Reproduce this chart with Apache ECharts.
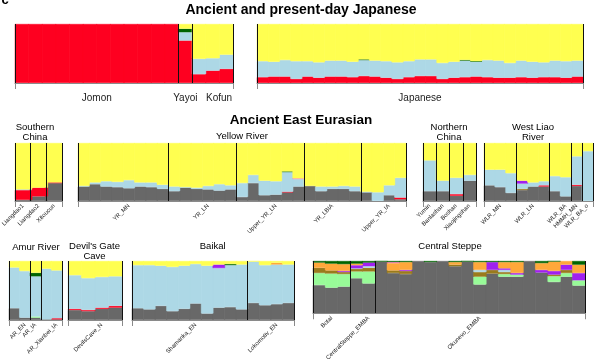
<!DOCTYPE html>
<html><head><meta charset="utf-8">
<script src="https://cdn.jsdelivr.net/npm/echarts@6/dist/echarts.min.js"></script>
<style>html,body{margin:0;padding:0;background:#fff}#c{width:600px;height:363px}</style>
</head><body><div id="c"></div>
<script>
// ancestry components, stacked bottom -> top
const components = ['g','r','lg','o','b','p','or','pk','dg','y'];
const componentColors = ['#686868','#FE0020','#98FB98','#9A7B1C','#ADD8E6','#A020F0','#FFA83A','#FF6EB4','#006400','#FFFF50'];

// ---- Ancient and present-day Japanese ----
const ancientJapanGroups = [['Jomon',12],['Yayoi',1],['Kofun',3]];
const ancientJapanRows = [
  {r:100},{r:100},{r:100},{r:100},{r:100},{r:100},{r:100},{r:100},{r:100},{r:100},{r:100},{r:100},
  {r:72,b:14,dg:6,y:8},
  {r:15,b:26,y:59},{r:21,b:21,y:58},{r:24,b:24,y:52}
];
const japaneseGroups = [['Japanese',29]];
const japaneseRows = [
  {r:10,b:27,y:63},{r:11,b:25,y:64},{r:11,b:28,y:61},{r:7,b:30,y:63},{r:11,b:26,y:63},
  {r:9,b:26,y:65},{r:11,b:27,y:62},{r:11,b:27,y:62},{r:10,b:26,y:64},{r:12,b:27,dg:1,y:60},
  {r:11,b:27,y:62},{r:9,b:28,y:63},{r:7,b:28,y:65},{r:10,b:27,y:63},{r:12,b:28,y:60},
  {r:12,b:28,y:60},{r:7,b:27,y:66},{r:9,b:27,y:64},{r:10,b:28,dg:1,y:61},{r:11,b:25,dg:1,y:63},
  {r:10,b:29,y:61},{r:9,b:29,y:62},{r:9,b:25,y:66},{r:10,b:28,y:62},{r:9,b:27,y:64},
  {r:10,b:25,y:65},{r:10,b:28,y:62},{r:9,b:28,y:63},{r:11,b:27,y:62}
];

// ---- Ancient East Eurasian ----
const southChinaGroups = [['Liangdao1',1],['Liangdao2',1],['Xitoucun',1]];
const southChinaRows = [{g:2,r:17,b:1,y:80},{g:8,r:15,y:77},{g:31,r:1,y:68}];

const yellowRiverGroups = [['YR_MN',8],['YR_LN',6],['Upper_YR_LN',6],['YR_LBIA',5],['Upper_YR_IA',4]];
const yellowRiverRows = [
  {g:25,b:1,y:74},{g:29,b:3,y:68},{g:25,b:9,y:66},{g:24,b:9,y:67},{g:22,b:14,y:64},{g:25,b:7,y:68},{g:24,b:8,y:68},{g:21,b:7,y:72},
  {g:17,b:8,y:75},{g:23,b:1,y:76},{g:21,b:2,y:77},{g:20,b:6,y:74},{g:18,b:11,y:71},{g:20,b:7,y:73},
  {g:7,b:24,y:69},{g:31,b:14,y:55},{g:10,b:25,y:65},{g:11,b:23,y:66},{g:15,r:1,b:34,dg:1,y:49},{g:25,b:13,pk:1,y:61},
  {g:26,y:74},{g:17,b:8,y:75},{g:21,b:4,y:75},{g:21,b:5,y:74},{g:17,b:8,y:75},
  {g:15,b:1,y:84},{b:15,y:85},{g:10,b:17,y:73},{g:3,r:3,b:34,y:60}
];

const northChinaGroups = [['Yumin',1],['Banlashan',1],['Boshan',1],['Xiaojingshan',1]];
const northChinaRows = [{g:17,b:53,y:30},{g:17,b:18,y:65},{g:9,r:3,b:28,y:60},{g:35,b:10,y:55}];

const westLiaoGroups = [['WLR_MN',3],['WLR_LN',3],['WLR_BA',2],['HMMH_MN',1],['WLR_BA_o',1]];
const westLiaoRows = [
  {g:27,b:27,y:46},{g:24,b:30,y:46},{g:14,b:34,y:52},
  {g:19,o:2,b:9,p:5,y:65},{g:25,b:7,y:68},{g:25,r:2,b:7,y:66},
  {g:17,b:26,y:57},{g:8,b:33,y:59},
  {g:26,r:2,b:49,y:23},
  {b:86,y:14}
];

const amurGroups = [['AR_EN',2],['AR_IA',1],['AR_Xianbei_IA',2]];
const amurRows = [
  {g:20,b:69,y:11},{g:4,b:79,y:17},
  {g:4,lg:2,b:68,dg:6,y:20},
  {g:1,b:86,y:13},{g:1,r:2,b:81,y:16}
];

const devilsGateGroups = [['DevilsCave_N',4]];
const devilsGateRows = [{g:17,r:2,b:57,y:24},{g:15,r:2,b:54,y:29},{g:19,r:2,b:52,y:27},{g:21,r:3,b:50,y:26}];

const baikalGroups = [['Shamanka_EN',10],['Lokomotiv_EN',4]];
const baikalRows = [
  {g:20,b:73,y:7},{g:18,b:75,y:7},{g:24,b:68,y:8},{g:15,b:75,y:10},{g:19,b:73,y:8},
  {g:28,b:67,y:5},{g:11,b:81,y:8},{g:21,b:67,p:6,y:6},{g:22,b:71,dg:2,y:5},{g:18,b:76,y:6},
  {g:29,b:70,y:1},{g:25,b:68,y:7},{g:27,b:67,or:3,y:3},{g:29,b:65,y:6}
];

const steppeGroups = [['Botai',3],['CentralSteppe_EMBA',2],['Okunevo_EMBA',17]];
const steppeRows = [
  {g:54,lg:23,o:10,or:10,dg:3},{g:49,lg:27,o:6,or:13,dg:5},{g:51,lg:24,o:4,p:2,or:13,dg:6},
  {g:67,lg:13,o:5,b:1,or:3,p:6,dg:5},{g:57,lg:23,o:7,b:3,p:7,dg:3},
  {g:99,dg:1},{g:77,o:5,pk:2,or:14,dg:2},{g:75,o:6,p:2,or:15,dg:2},{g:100},{g:98,dg:2},
  {g:100},{g:90,o:3,or:5,dg:2},{g:99,dg:1},{g:55,lg:15,o:9,b:4,or:15,dg:2},{g:76,o:7,p:15,dg:2},
  {g:70,lg:5,o:4,b:4,p:3,or:12,dg:2},{g:70,lg:4,p:3,or:21,dg:2},{g:100},{g:78,p:5,or:13,dg:4},
  {g:60,lg:11,o:3,p:7,or:18,dg:1},{g:70,lg:7,o:6,p:10,or:7},{g:53,lg:10,p:14,or:16,dg:7}
];

// ---- layout (not data) ----
const FONT = 'Liberation Sans, Arial, Helvetica, sans-serif';
const panels = [
  {groups:ancientJapanGroups, rows:ancientJapanRows, left:15, top:24, width:218, height:59, rot:0, nudge:{Kofun:13}},
  {groups:japaneseGroups, rows:japaneseRows, left:257, top:24, width:326, height:59, rot:0},
  {groups:southChinaGroups, rows:southChinaRows, left:8, top:143, width:54, height:58, rot:45},
  {groups:yellowRiverGroups, rows:yellowRiverRows, left:78, top:143, width:328, height:58, rot:45},
  {groups:northChinaGroups, rows:northChinaRows, left:423, top:143, width:53, height:58, rot:45},
  {groups:westLiaoGroups, rows:westLiaoRows, left:484, top:143, width:109, height:58, rot:45},
  {groups:amurGroups, rows:amurRows, left:9, top:261, width:53, height:59, rot:45},
  {groups:devilsGateGroups, rows:devilsGateRows, left:68, top:261, width:54, height:59, rot:45},
  {groups:baikalGroups, rows:baikalRows, left:132, top:261, width:162, height:59, rot:45},
  {groups:steppeGroups, rows:steppeRows, left:313, top:261, width:272, height:59, rot:45}
];

const grids = [], xAxes = [], yAxes = [], series = [];
panels.forEach((P, pi) => {
  grids.push({left:P.left, top:P.top, width:P.width, height:P.height, containLabel:false});
  const band = P.width / P.rows.length;
  const starts = new Set(); const labelAt = {}; let s = 0;
  P.groups.forEach(([name, n]) => {
    starts.add(s);
    labelAt[s + Math.floor(n / 2)] = {name, even: n % 2 === 0};
    s += n;
  });
  const fs = P.rot ? 6 : 10;
  const rich = {
    n: {fontSize: fs, fontFamily: FONT, color: '#222'},
    e: {fontSize: fs, fontFamily: FONT, color: '#222', padding: [0, band, 0, 0]}
  };
  if (P.nudge) Object.keys(P.nudge).forEach(k => {
    rich['k' + k] = {fontSize: fs, fontFamily: FONT, color: '#222', padding: [0, 0, 0, P.nudge[k]]};
  });
  xAxes.push({
    gridIndex: pi, type: 'category', boundaryGap: true, z: 10,
    data: P.rows.map((_, k) => String(k)),
    axisLine: {show: true, lineStyle: {color: '#8a8a8a', width: 1.2}},
    axisTick: {show: true, interval: (idx) => idx === 0, length: 6, lineStyle: {color: '#8a8a8a', width: 1}},
    splitLine: {show: true, interval: (idx) => starts.has(idx), lineStyle: {color: '#111', width: 1, type: 'solid'}},
    axisLabel: {
      show: true, interval: (idx) => labelAt[idx] !== undefined,
      rotate: P.rot, margin: P.rot ? 4 : 10, fontFamily: FONT,
      fontSize: fs, color: '#222',
      formatter: (v, idx) => {
        const L = labelAt[idx]; if (!L) return '';
        if (P.nudge && P.nudge[L.name] !== undefined) return '{k' + L.name + '|' + L.name + '}';
        if (!P.rot && L.even) return '{e|' + L.name + '}';
        return '{n|' + L.name + '}';
      },
      rich
    }
  });
  yAxes.push({gridIndex: pi, type: 'value', min: 0, max: 100, show: false, splitLine: {show: false}});
  components.forEach((c, ci) => {
    series.push({
      type: 'bar', xAxisIndex: pi, yAxisIndex: pi, stack: 'panel' + pi,
      data: P.rows.map(r => (r[c] === undefined ? '-' : r[c])),
      barWidth: band + 0.8, silent: true,
      itemStyle: {color: componentColors[ci], borderColor: componentColors[ci], borderWidth: 0.5}
    });
  });
});

function txt(x, y, text, size, bold, lh) {
  return {type: 'text', x, y, z: 100, silent: true, style: {
    text, fontSize: size, fontWeight: bold ? 'bold' : 'normal', fontFamily: FONT,
    fill: '#000', align: 'center', verticalAlign: 'middle', lineHeight: lh || size * 1.1
  }};
}

const chart = echarts.init(document.getElementById('c'), null, {renderer: 'canvas'});
chart.setOption({
  animation: false,
  backgroundColor: '#fff',
  grid: grids, xAxis: xAxes, yAxis: yAxes, series,
  graphic: [
    txt(5, 0, 'c', 13, true),
    txt(301, 10, 'Ancient and present-day Japanese', 14, true),
    txt(301, 120, 'Ancient East Eurasian', 13.5, true),
    txt(35, 132, 'Southern\nChina', 9.5, false, 10),
    txt(242, 136, 'Yellow River', 9.5, false),
    txt(449, 132, 'Northern\nChina', 9.5, false, 10),
    txt(533, 132, 'West Liao\nRiver', 9.5, false, 10),
    txt(36, 247, 'Amur River', 9.5, false),
    txt(94.5, 251, "Devil's Gate\nCave", 9.5, false, 10),
    txt(212.7, 246, 'Baikal', 9.5, false),
    txt(450, 246, 'Central Steppe', 9.5, false)
  ]
});
</script>
</body></html>
